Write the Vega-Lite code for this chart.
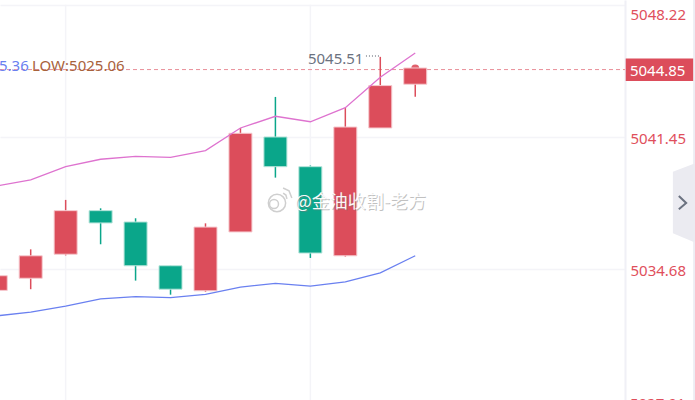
{
  "$schema": "https://vega.github.io/schema/vega-lite/v6.json",
  "width": 625,
  "height": 400,
  "padding": {"left": 0, "top": 0, "right": 70, "bottom": 0},
  "autosize": "none",
  "background": "#ffffff",
  "config": {"view": {"stroke": null}},
  "datasets": {
    "candles": [
      {"idx": -1, "top": 5034.35, "bot": 5033.60, "hi": 5034.35, "lo": 5033.60, "dir": "up"},
      {"idx": 0, "top": 5035.37, "bot": 5034.22, "hi": 5035.70, "lo": 5033.66, "dir": "up"},
      {"idx": 1, "top": 5037.68, "bot": 5035.45, "hi": 5038.23, "lo": 5035.39, "dir": "up"},
      {"idx": 2, "top": 5037.68, "bot": 5037.05, "hi": 5037.80, "lo": 5035.96, "dir": "down"},
      {"idx": 3, "top": 5037.10, "bot": 5034.86, "hi": 5037.29, "lo": 5034.10, "dir": "down"},
      {"idx": 4, "top": 5034.86, "bot": 5033.66, "hi": 5034.86, "lo": 5033.38, "dir": "down"},
      {"idx": 5, "top": 5036.84, "bot": 5033.58, "hi": 5037.03, "lo": 5033.53, "dir": "up"},
      {"idx": 6, "top": 5041.64, "bot": 5036.59, "hi": 5041.91, "lo": 5036.59, "dir": "up"},
      {"idx": 7, "top": 5041.45, "bot": 5039.93, "hi": 5043.50, "lo": 5039.37, "dir": "down"},
      {"idx": 8, "top": 5039.93, "bot": 5035.51, "hi": 5039.99, "lo": 5035.26, "dir": "down"},
      {"idx": 9, "top": 5041.96, "bot": 5035.37, "hi": 5042.93, "lo": 5035.33, "dir": "up"},
      {"idx": 10, "top": 5044.08, "bot": 5041.91, "hi": 5045.55, "lo": 5041.91, "dir": "up"},
      {"idx": 11, "top": 5044.98, "bot": 5044.15, "hi": 5045.10, "lo": 5043.51, "dir": "up"}
    ],
    "bands": [
      {"idx": -1, "price": 5038.94, "band": "upper"},
      {"idx": 0, "price": 5039.25, "band": "upper"},
      {"idx": 1, "price": 5039.93, "band": "upper"},
      {"idx": 2, "price": 5040.31, "band": "upper"},
      {"idx": 3, "price": 5040.46, "band": "upper"},
      {"idx": 4, "price": 5040.41, "band": "upper"},
      {"idx": 5, "price": 5040.75, "band": "upper"},
      {"idx": 6, "price": 5041.91, "band": "upper"},
      {"idx": 7, "price": 5042.51, "band": "upper"},
      {"idx": 8, "price": 5042.23, "band": "upper"},
      {"idx": 9, "price": 5042.95, "band": "upper"},
      {"idx": 10, "price": 5044.51, "band": "upper"},
      {"idx": 11, "price": 5045.75, "band": "upper"},
      {"idx": -1, "price": 5032.29, "band": "lower"},
      {"idx": 0, "price": 5032.49, "band": "lower"},
      {"idx": 1, "price": 5032.79, "band": "lower"},
      {"idx": 2, "price": 5033.17, "band": "lower"},
      {"idx": 3, "price": 5033.28, "band": "lower"},
      {"idx": 4, "price": 5033.23, "band": "lower"},
      {"idx": 5, "price": 5033.40, "band": "lower"},
      {"idx": 6, "price": 5033.77, "band": "lower"},
      {"idx": 7, "price": 5033.96, "band": "lower"},
      {"idx": 8, "price": 5033.82, "band": "lower"},
      {"idx": 9, "price": 5034.04, "band": "lower"},
      {"idx": 10, "price": 5034.50, "band": "lower"},
      {"idx": 11, "price": 5035.37, "band": "lower"}
    ],
    "labels": [
      {"idx": -0.906, "price": 5045.1, "label": "5.36", "kind": "high"},
      {"idx": 0.037, "price": 5045.1, "label": "LOW:5025.06", "kind": "low"},
      {"idx": 7.93, "price": 5045.46, "label": "5045.51", "kind": "mark"},
      {"idx": 17.14, "price": 5044.85, "label": "5044.85", "kind": "last"},
      {"idx": 17.14, "price": 5027.78, "label": "5027.91", "kind": "axis"}
    ]
  },
  "encoding": {
    "x": {"field": "idx", "type": "quantitative", "axis": null, "scale": {"domain": [-0.878, 17], "zero": false, "padding": 0}}
  },
  "layer": [
    {
      "data": {"values": [{"idx": 1, "price": 5048.22, "price2": 5027.99}, {"idx": 8, "price": 5048.22, "price2": 5027.99}]},
      "mark": {"type": "rule", "color": "#f4f4f8", "strokeWidth": 1.5},
      "encoding": {
        "y": {
          "field": "price", "type": "quantitative",
          "scale": {"domain": [5027.99, 5048.46], "zero": false},
          "axis": {
            "orient": "right", "title": null, "values": [5048.22, 5041.45, 5034.68], "format": ".2f",
            "grid": true, "gridColor": "#f4f4f8", "gridWidth": 1.5, "ticks": false,
            "domainColor": "#f0f0f6", "domainWidth": 2,
            "labelColor": "#df4f5c", "labelFont": "Noto Sans", "labelFontSize": 15, "labelPadding": 5,
            "labelBound": false, "labelFlush": false, "labelOverlap": false,
            "labelOffset": {"condition": {"test": "datum.value > 5048", "value": 10}, "value": 1.5}
          }
        },
        "y2": {"field": "price2"}
      }
    },
    {
      "data": {"values": [{"idx": 18.95, "idx2": 19, "price": 5048.46, "price2": 5027.99}]},
      "mark": {"type": "rect", "color": "#ececf2"},
      "encoding": {
        "x2": {"field": "idx2"},
        "y": {"field": "price", "type": "quantitative", "scale": {"domain": [5027.99, 5048.46], "zero": false}, "title": null},
        "y2": {"field": "price2"}
      }
    },
    {
      "data": {"values": [
        {"idx": 18.37, "price": 5039.67, "price2": 5036.52},
        {"idx": 18.95, "price": 5040.07, "price2": 5036.09},
        {"idx": 19, "price": 5040.07, "price2": 5036.09}
      ]},
      "mark": {"type": "area", "color": "#ebebf1", "opacity": 1},
      "encoding": {
        "y": {"field": "price", "type": "quantitative", "scale": {"domain": [5027.99, 5048.46], "zero": false}, "title": null},
        "y2": {"field": "price2"}
      }
    },
    {
      "data": {"values": [
        {"idx": 18.54, "price": 5038.43},
        {"idx": 18.75, "price": 5038.07},
        {"idx": 18.54, "price": 5037.75}
      ]},
      "mark": {"type": "line", "color": "#6b7280", "strokeWidth": 2},
      "encoding": {
        "order": {"field": "price", "sort": "descending"},
        "y": {"field": "price", "type": "quantitative", "scale": {"domain": [5027.99, 5048.46], "zero": false}, "title": null}
      }
    },
    {
      "data": {"values": [{"idx": -0.878, "idx2": 17, "price": 5044.9}]},
      "mark": {"type": "rule", "color": "#e98f99", "strokeWidth": 1, "strokeDash": [4, 3]},
      "encoding": {
        "x2": {"field": "idx2"},
        "y": {"field": "price", "type": "quantitative", "scale": {"domain": [5027.99, 5048.46], "zero": false}, "title": null}
      }
    },
    {
      "data": {"name": "candles"},
      "mark": {"type": "rule", "strokeWidth": 1.5},
      "encoding": {
        "y": {"field": "hi", "type": "quantitative", "scale": {"domain": [5027.99, 5048.46], "zero": false}, "title": null},
        "y2": {"field": "lo"},
        "color": {"field": "dir", "type": "nominal", "legend": null, "scale": {"domain": ["up", "down"], "range": ["#dc4d5b", "#0aa68a"]}}
      }
    },
    {
      "data": {"values": [{"idx": 11, "price": 5044.95}]},
      "mark": {"type": "point", "filled": true, "size": 64, "color": "#e0606c", "opacity": 1},
      "encoding": {
        "y": {"field": "price", "type": "quantitative", "scale": {"domain": [5027.99, 5048.46], "zero": false}, "title": null}
      }
    },
    {
      "data": {"name": "candles"},
      "mark": {"type": "bar", "size": 23, "strokeWidth": 1},
      "encoding": {
        "y": {"field": "top", "type": "quantitative", "scale": {"domain": [5027.99, 5048.46], "zero": false}, "title": null},
        "y2": {"field": "bot"},
        "color": {"field": "dir", "type": "nominal", "legend": null, "scale": {"domain": ["up", "down"], "range": ["#dc4d5b", "#0aa68a"]}},
        "stroke": {"field": "dir", "type": "nominal", "legend": null, "scale": {"domain": ["up", "down"], "range": ["#f6c9ce", "#b5e4da"]}}
      }
    },
    {
      "data": {"name": "bands"},
      "mark": {"type": "line", "strokeWidth": 1.3},
      "encoding": {
        "y": {"field": "price", "type": "quantitative", "scale": {"domain": [5027.99, 5048.46], "zero": false}, "title": null},
        "color": {"field": "band", "type": "nominal", "legend": null, "scale": {"domain": ["upper", "lower"], "range": ["#de73cf", "#6a80f0"]}}
      }
    },
    {
      "data": {"values": [{"idx": 9.59, "idx2": 10, "price": 5045.6}]},
      "mark": {"type": "rule", "color": "#8a8f99", "strokeWidth": 1.5, "strokeDash": [1, 2]},
      "encoding": {
        "x2": {"field": "idx2"},
        "y": {"field": "price", "type": "quantitative", "scale": {"domain": [5027.99, 5048.46], "zero": false}, "title": null}
      }
    },
    {
      "data": {"values": [{"idx": 17.02, "idx2": 18.95, "price": 5045.47, "price2": 5044.32}]},
      "mark": {"type": "rect", "color": "#dc4d5b"},
      "encoding": {
        "x2": {"field": "idx2"},
        "y": {"field": "price", "type": "quantitative", "scale": {"domain": [5027.99, 5048.46], "zero": false}, "title": null},
        "y2": {"field": "price2"}
      }
    },
    {
      "data": {"name": "labels"},
      "mark": {"type": "text", "align": "left", "baseline": "middle", "font": "Noto Sans", "fontSize": 15},
      "encoding": {
        "y": {"field": "price", "type": "quantitative", "scale": {"domain": [5027.99, 5048.46], "zero": false}, "title": null},
        "text": {"field": "label"},
        "color": {"field": "kind", "type": "nominal", "legend": null, "scale": {"domain": ["high", "low", "mark", "last", "axis"], "range": ["#6a80f0", "#a8623c", "#6b7280", "#ffffff", "#df4f5c"]}}
      }
    },
    {
      "data": {"values": [{"idx": 7.045, "price": 5038.07, "ring": "outer"}, {"idx": 6.96, "price": 5038.02, "ring": "inner"}]},
      "mark": {"type": "point", "filled": false, "color": "#cfcfcf", "strokeWidth": 1.5, "opacity": 1},
      "encoding": {
        "y": {"field": "price", "type": "quantitative", "scale": {"domain": [5027.99, 5048.46], "zero": false}, "title": null},
        "size": {"field": "ring", "type": "nominal", "legend": null, "scale": {"domain": ["outer", "inner"], "range": [300, 80]}}
      }
    },
    {
      "data": {"values": [
        {"idx": 7.22, "price": 5038.84, "arc": "a"},
        {"idx": 7.39, "price": 5038.69, "arc": "a"},
        {"idx": 7.47, "price": 5038.33, "arc": "a"},
        {"idx": 7.22, "price": 5038.58, "arc": "b"},
        {"idx": 7.30, "price": 5038.48, "arc": "b"},
        {"idx": 7.33, "price": 5038.28, "arc": "b"}
      ]},
      "mark": {"type": "line", "color": "#cfcfcf", "strokeWidth": 1.5},
      "encoding": {
        "detail": {"field": "arc"},
        "y": {"field": "price", "type": "quantitative", "scale": {"domain": [5027.99, 5048.46], "zero": false}, "title": null}
      }
    },
    {
      "data": {"values": [{"idx": 7.55, "price": 5038.07, "label": "@金油收割-老方"}]},
      "mark": {"type": "text", "align": "left", "baseline": "middle", "font": "Noto Sans CJK SC", "fontSize": 18, "color": "#777777", "opacity": 0.45, "dx": 1, "dy": 1},
      "encoding": {
        "y": {"field": "price", "type": "quantitative", "scale": {"domain": [5027.99, 5048.46], "zero": false}, "title": null},
        "text": {"field": "label"}
      }
    },
    {
      "data": {"values": [{"idx": 7.55, "price": 5038.07, "label": "@金油收割-老方"}]},
      "mark": {"type": "text", "align": "left", "baseline": "middle", "font": "Noto Sans CJK SC", "fontSize": 18, "color": "#ffffff", "opacity": 0.95},
      "encoding": {
        "y": {"field": "price", "type": "quantitative", "scale": {"domain": [5027.99, 5048.46], "zero": false}, "title": null},
        "text": {"field": "label"}
      }
    }
  ],
  "resolve": {"scale": {"color": "independent", "stroke": "independent", "size": "independent"}}
}
